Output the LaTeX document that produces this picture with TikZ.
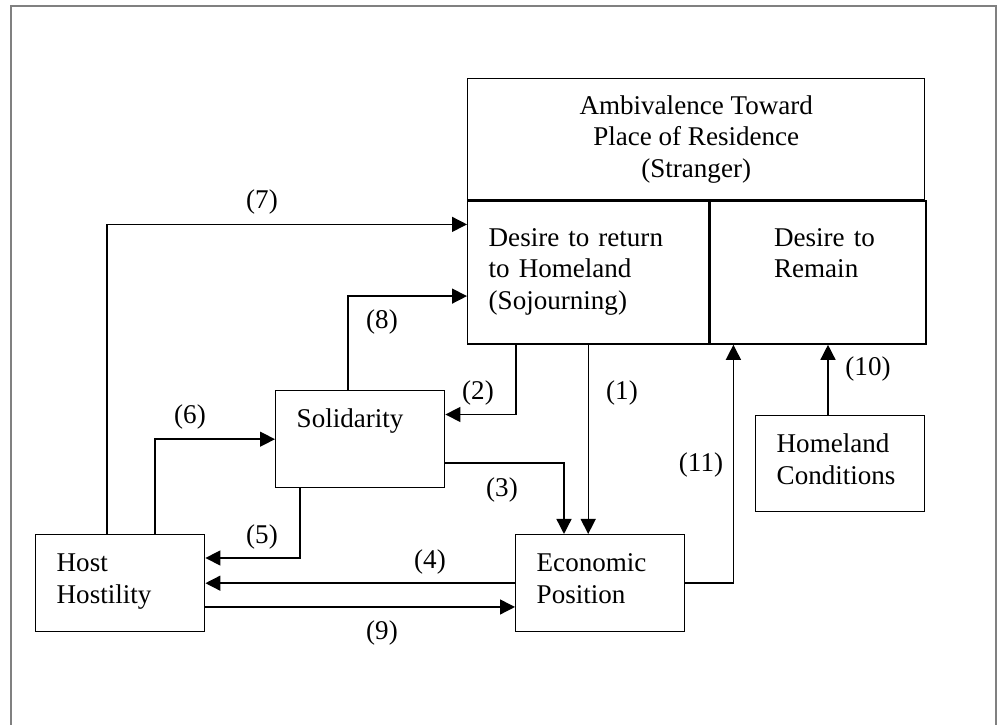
\documentclass[tikz,border=0pt]{standalone}
\usepackage{fontspec}
\setmainfont{Liberation Serif}
\usepackage{tikz}
\usetikzlibrary{arrows.meta}

\tikzset{
  box/.style={draw, line width=0.8pt, anchor=north west, align=left,
    inner ysep=0pt, inner xsep=0.42cm, text width=2.54cm,
    text height=0.74cm, text depth=1.2cm},
  bigbox/.style={box, text height=0.9cm, text depth=1.96cm},
  flow/.style={line width=0.8pt, -{Triangle[length=0.3cm, width=0.3cm]}},
  frame/.style={draw=gray, line width=1pt}
}

\begin{document}
\begin{tikzpicture}[every node/.style={font=\fontsize{15.4}{18}\selectfont}]
            \useasboundingbox (0,0) rectangle (19.96,14.5);
            \draw[frame] (0.22,0) |- (19.92,14.38) -- (19.92,0);
            % Boxes
            \node[draw, line width=0.8pt, anchor=north west, align=center, inner sep=0pt,
                  minimum width=9.14cm, minimum height=2.42cm] (amb) at (9.34,12.94)
                  {Ambivalence Toward\\Place of Residence\\(Stranger)};
            \node[bigbox, text width=3.98cm] (ret) at (amb.south west)
                  {Desire to return\\to Homeland\\(Sojourning)};
            \node[bigbox, inner xsep=1.28cm, text width=1.76cm] (rem) at (ret.north east)
                  {\mbox{Desire to}\\Remain};
            \node[box] (sol) at (5.5,6.7) {Solidarity};
            \node[box] (host) at (0.7,3.82) {Host\\Hostility};
            \node[box] (econ) at (10.3,3.82) {Economic\\Position};
            \node[box, text depth=1.18cm] (home) at (15.1,6.2) {Homeland\\Conditions};
            % Links
            \draw[flow] (ret.south) -- (ret.south |- econ.north);
            \draw[flow] ([xshift=0.98cm]ret.south west) |- ([yshift=-0.49cm]sol.north east);
            \draw[flow] ([yshift=-1.46cm]sol.north east) -| ([xshift=0.98cm]econ.north west);
            \draw[flow] (econ.west) -- (econ.west -| host.east);
            \draw[flow] ([xshift=0.5cm]sol.south west) |- ([yshift=-0.48cm]host.north east);
            \draw[flow] ([xshift=2.4cm]host.north west) |- (sol.west);
            \draw[flow] ([xshift=1.44cm]host.north west) |- ([yshift=-0.48cm]ret.north west);
            \draw[flow] ([xshift=1.46cm]sol.north west) |- ([yshift=-0.47cm]ret.west);
            \draw[flow] ([yshift=-1.46cm]host.north east) -- ([yshift=-1.46cm]econ.north west);
            \draw[flow] ([xshift=1.46cm]home.north west) -- ([xshift=1.46cm]home.north west |- rem.south);
            \draw[flow] (econ.east) -| ([xshift=0.48cm]rem.south west);
            % Numbers
            \node (n1) at (12.44,6.64) {(1)};
            \node (n2) at (9.56,6.64) {(2)};
            \node (n3) at (10.04,4.70) {(3)};
            \node (n4) at (8.60,3.26) {(4)};
            \node (n5) at (5.24,3.76) {(5)};
            \node (n6) at (3.80,6.16) {(6)};
            \node (n7) at (5.24,10.46) {(7)};
            \node (n8) at (7.64,8.06) {(8)};
            \node (n9) at (7.64,1.84) {(9)};
            \node (n10) at (17.36,7.12) {(10)};
            \node (n11) at (14.02,5.20) {(11)};
\end{tikzpicture}
\end{document}
